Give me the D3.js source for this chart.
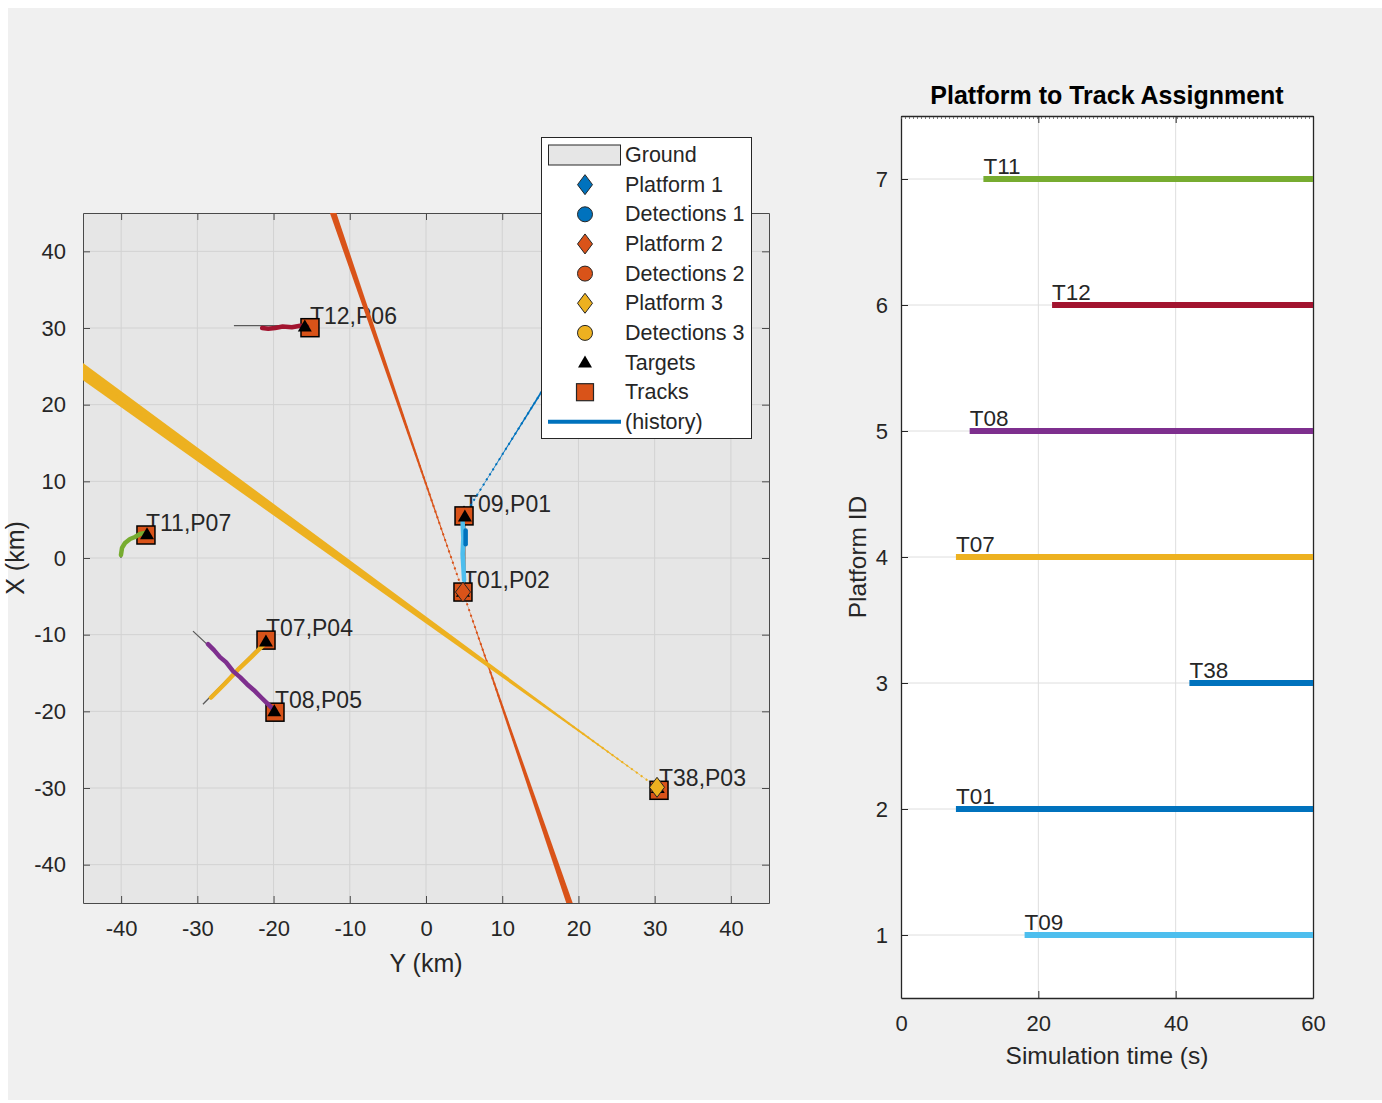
<!DOCTYPE html>
<html><head><meta charset="utf-8">
<script src="https://cdn.jsdelivr.net/npm/d3@7"></script>
<style>
body{margin:0;background:#fff;}
svg text{font-family:"Liberation Sans",Arial,Helvetica,sans-serif;}
</style></head><body>
<svg id="chart" width="1382" height="1103"></svg>
<script>
// ================= DATA =================
// Left panel (theater plot), coordinates are [Y km, X km]
const mapTicks = [-40,-30,-20,-10,0,10,20,30,40];
const trackNames = ["T12,P06","T09,P01","T01,P02","T11,P07","T07,P04","T08,P05","T38,P03"];
const trackY = [-15.22, 4.99, 4.85, -36.74, -20.99, -19.81, 30.57];
const trackX = [30.04, 5.49, -4.44, 3.00, -10.71, -20.11, -30.30];
const targetY = [-15.9, 5.1, 4.85, -36.6, -21.0, -19.9, 30.4];
const targetX = [30.2, 5.4, -4.4, 3.1, -10.9, -20.0, -30.0];
const platformNames = ["Platform 1","Platform 2","Platform 3"];
const platformY = [4.99, 4.85, 30.31];
const platformX = [5.49, -4.44, -29.91];
// detection beams (bearing-only detections) : platform index, far end, spread at far end (km)
const beamPlatform = [0, 1, 1, 2];
const beamEndY = [31.06, -12.87, 19.51, -47.0];
const beamEndX = [47.0, 47.0, -47.0, 25.74];
const beamSpread = [0.3, 0.42, 0.42, 0.95];
// ground-truth trajectories
const truthT12 = [[-25.2,30.3],[-15.2,30.3]];
const truthP01 = [[5.1,5.5],[5.1,-4.4]];
const truthT07 = [[-29.26,-19.07],[-20.99,-10.71]];
const truthT08 = [[-30.57,-9.54],[-28.6,-11.36],[-19.81,-20.11]];
const truthT11 = [[-40.02,0.0],[-40.02,0.78]];
// track histories
const histT12 = [[-21.5,30.0],[-20.7,29.9],[-19.8,30.0],[-18.8,30.2],[-17.6,30.1],[-16.5,30.3],[-15.6,30.2]];
const histT09 = [[4.8,4.8],[4.9,2.6],[4.8,0.5],[5.0,-2.9]];
const histT01 = [[5.2,3.6],[5.2,1.8]];
const histT07 = [[-28.2,-18.2],[-26.4,-16.4],[-24.7,-14.6],[-22.9,-12.9],[-21.1,-11.1]];
const histT08 = [[-28.6,-11.23],[-27.81,-12.02],[-27.03,-12.93],[-26.24,-13.58],[-25.32,-14.76],[-24.4,-15.54],
                 [-23.48,-16.46],[-22.57,-17.24],[-21.65,-18.16],[-20.73,-19.07],[-19.94,-19.85]];
const histT11 = [[-40.02,0.39],[-39.88,1.31],[-39.49,1.96],[-38.83,2.48],[-38.18,2.74],[-37.52,3.13],[-36.86,3.27]];
const legendLabels = ["Ground","Platform 1","Detections 1","Platform 2","Detections 2","Platform 3","Detections 3","Targets","Tracks","(history)"];

// Right panel
const assignPlatform = [7,6,5,4,3,2,1];
const assignTrack = ["T11","T12","T08","T07","T38","T01","T09"];
const assignStart = [12,22,10,8,42,8,18];
const assignEnd = [60,60,60,60,60,60,60];
const timeTicks = [0,20,40,60];
const idTicks = [1,2,3,4,5,6,7];

// ================= STYLE =================
const C = {blue:"#0072BD", orange:"#D95319", yellow:"#EDB120", purple:"#7E2F8E",
           green:"#77AC30", lblue:"#4DBEEE", dred:"#A2142F"};
const FONT = '"Liberation Sans", Arial, Helvetica, sans-serif';
const TXT = "#262626";
const platformColors = [C.blue, C.orange, C.yellow];
const assignColors = [C.green, C.dred, C.purple, C.yellow, C.blue, C.blue, C.lblue];

const svg = d3.select("#chart");
svg.append("rect").attr("x",8).attr("y",8).attr("width",1374).attr("height",1092).attr("fill","#f0f0f0");

// ================= LEFT PANEL =================
const L = {x0:83, x1:769, y0:213, y1:903};
const xs = d3.scaleLinear().domain([-45,45]).range([L.x0, L.x1]);
const ys = d3.scaleLinear().domain([-45,45]).range([L.y1, L.y0]);
const P = d => [xs(d[0]), ys(d[1])];

svg.append("rect").attr("x",L.x0).attr("y",L.y0).attr("width",L.x1-L.x0).attr("height",L.y1-L.y0).attr("fill","#e6e6e6");
svg.append("clipPath").attr("id","clipL").append("rect")
  .attr("x",L.x0).attr("y",L.y0).attr("width",L.x1-L.x0).attr("height",L.y1-L.y0);

// grid
const gGrid = svg.append("g");
mapTicks.forEach(t=>{
  gGrid.append("line").attr("x1",xs(t)).attr("x2",xs(t)).attr("y1",L.y0).attr("y2",L.y1).attr("stroke","#d2d2d2").attr("stroke-width",1);
  gGrid.append("line").attr("y1",ys(t)).attr("y2",ys(t)).attr("x1",L.x0).attr("x2",L.x1).attr("stroke","#d2d2d2").attr("stroke-width",1);
});

function styleAx(g, size){
  g.attr("font-family",FONT).attr("font-size",size);
  g.select(".domain").attr("stroke","#4a4a4a");
  g.selectAll(".tick line").attr("stroke","#4a4a4a");
  g.selectAll(".tick text").attr("fill",TXT);
}
const fmt = d=>String(d);
styleAx(svg.append("g").attr("transform",`translate(0,${L.y1})`)
  .call(d3.axisBottom(xs).tickValues(mapTicks).tickFormat(fmt).tickSizeInner(-7).tickSizeOuter(0).tickPadding(17)),22);
styleAx(svg.append("g").attr("transform",`translate(${L.x0},0)`)
  .call(d3.axisLeft(ys).tickValues(mapTicks).tickFormat(fmt).tickSizeInner(-7).tickSizeOuter(0).tickPadding(17)),22);
styleAx(svg.append("g").attr("transform",`translate(0,${L.y0})`)
  .call(d3.axisTop(xs).tickValues(mapTicks).tickFormat("").tickSizeInner(-7).tickSizeOuter(0)),22);
styleAx(svg.append("g").attr("transform",`translate(${L.x1},0)`)
  .call(d3.axisRight(ys).tickValues(mapTicks).tickFormat("").tickSizeInner(-7).tickSizeOuter(0)),22);

svg.append("text").attr("x",(L.x0+L.x1)/2).attr("y",963).attr("text-anchor","middle").attr("dominant-baseline","central")
  .attr("font-size",25).attr("fill",TXT).text("Y (km)");
svg.append("text").attr("transform","translate(15,558) rotate(-90)").attr("text-anchor","middle").attr("dominant-baseline","central")
  .attr("font-size",25).attr("fill",TXT).text("X (km)");

const plot = svg.append("g").attr("clip-path","url(#clipL)");
const line = d3.line().x(d=>xs(d[0])).y(d=>ys(d[1]));

// track labels (under detections)
plot.selectAll("text.tl").data(trackNames).join("text").attr("class","tl")
  .attr("x",(d,i)=>xs(trackY[i])).attr("y",(d,i)=>ys(trackX[i])-4)
  .attr("font-size",23).attr("fill",TXT).text(d=>d);

// detection beams
beamPlatform.forEach((p,i)=>{
  const o = P([platformY[p],platformX[p]]);
  const e = P([beamEndY[i],beamEndX[i]]);
  const dx=e[0]-o[0], dy=e[1]-o[1], len=Math.hypot(dx,dy);
  const nx=-dy/len, ny=dx/len;
  const w = beamSpread[i]*(xs(1)-xs(0));
  const col = platformColors[p];
  plot.append("path").attr("d",`M${o[0]},${o[1]}L${e[0]+nx*w},${e[1]+ny*w}L${e[0]-nx*w},${e[1]-ny*w}Z`).attr("fill",col);
  plot.append("line").attr("x1",o[0]).attr("y1",o[1]).attr("x2",e[0]).attr("y2",e[1])
    .attr("stroke",col).attr("stroke-width",2).attr("stroke-dasharray","2,4");
});

// truths
[truthT12,truthP01,truthT07,truthT08,truthT11].forEach(t=>{
  plot.append("path").attr("d",line(t)).attr("fill","none").attr("stroke","#5a5a5a").attr("stroke-width",1.3);
});

const dia = "M0,-10L7.5,0L0,10L-7.5,0Z";
// platform 1 sits beneath its track marker
plot.append("path").attr("transform",`translate(${xs(platformY[0])},${ys(platformX[0])})`).attr("d",dia)
  .attr("fill",platformColors[0]).attr("stroke","#262626").attr("stroke-width",1);

// tracks
const sq = 18;
plot.selectAll("rect.trk").data(trackNames).join("rect").attr("class","trk")
  .attr("x",(d,i)=>xs(trackY[i])-sq/2).attr("y",(d,i)=>ys(trackX[i])-sq/2)
  .attr("width",sq).attr("height",sq).attr("fill",C.orange).attr("stroke","#000").attr("stroke-width",1.5);

// histories
[[histT12,C.dred],[histT09,C.lblue],[histT01,C.blue],[histT07,C.yellow],[histT08,C.purple],[histT11,C.green]].forEach(([h,c])=>{
  plot.append("path").attr("d",line(h)).attr("fill","none").attr("stroke",c).attr("stroke-width",4.5)
    .attr("stroke-linejoin","round").attr("stroke-linecap","round");
});

// targets
const tri = "M0,-7L7,5L-7,5Z";
plot.selectAll("path.tgt").data(targetY).join("path").attr("class","tgt")
  .attr("transform",(d,i)=>`translate(${xs(d)},${ys(targetX[i])})`).attr("d",tri).attr("fill","#000");

// platforms 2 and 3 drawn on top
plot.selectAll("path.plt").data(platformNames.slice(1)).join("path").attr("class","plt")
  .attr("transform",(d,i)=>`translate(${xs(platformY[i+1])},${ys(platformX[i+1])})`).attr("d",dia)
  .attr("fill",(d,i)=>platformColors[i+1]).attr("stroke","#262626").attr("stroke-width",1);

// legend
const lg = svg.append("g");
lg.append("rect").attr("x",541.5).attr("y",137.5).attr("width",210).attr("height",301).attr("fill","#fff").attr("stroke","#262626").attr("stroke-width",1);
legendLabels.forEach((lab,i)=>{
  const yy = 155 + i*29.65;
  const cx = 585;
  if(i===0){
    lg.append("rect").attr("x",548.5).attr("y",yy-10).attr("width",72).attr("height",20).attr("fill","#e6e6e6").attr("stroke","#262626");
  } else if(i===1||i===3||i===5){
    lg.append("path").attr("d",dia).attr("transform",`translate(${cx},${yy})`).attr("fill",platformColors[(i-1)/2]).attr("stroke","#262626");
  } else if(i===2||i===4||i===6){
    lg.append("circle").attr("cx",cx).attr("cy",yy).attr("r",7.5).attr("fill",platformColors[(i-2)/2]).attr("stroke","#262626");
  } else if(i===7){
    lg.append("path").attr("d",tri).attr("transform",`translate(${cx},${yy})`).attr("fill","#000");
  } else if(i===8){
    lg.append("rect").attr("x",cx-8.5).attr("y",yy-8.5).attr("width",17).attr("height",17).attr("fill",C.orange).attr("stroke","#262626").attr("stroke-width",1.2);
  } else {
    lg.append("line").attr("x1",548).attr("x2",621).attr("y1",yy).attr("y2",yy).attr("stroke",C.blue).attr("stroke-width",4);
  }
  lg.append("text").attr("x",625).attr("y",yy).attr("dominant-baseline","central").attr("font-size",21.5).attr("fill",TXT).text(lab);
});

// ================= RIGHT PANEL =================
const R = {x0:901, x1:1313, y0:116, y1:998};
const xr = d3.scaleLinear().domain([0,60]).range([R.x0,R.x1]);
const yr = d3.scaleLinear().domain([0.5,7.5]).range([R.y1,R.y0]);
svg.append("rect").attr("x",R.x0).attr("y",R.y0).attr("width",R.x1-R.x0).attr("height",R.y1-R.y0).attr("fill","#fff");
timeTicks.slice(1,-1).forEach(t=>svg.append("line").attr("x1",xr(t)).attr("x2",xr(t)).attr("y1",R.y0).attr("y2",R.y1).attr("stroke","#dedede"));
idTicks.forEach(t=>svg.append("line").attr("y1",yr(t)).attr("y2",yr(t)).attr("x1",R.x0).attr("x2",R.x1).attr("stroke","#dedede"));

function styleAxR(g){
  g.attr("font-family",FONT).attr("font-size",22);
  g.select(".domain").attr("stroke","#262626").attr("stroke-width",1.3);
  g.selectAll(".tick line").attr("stroke","#262626");
  g.selectAll(".tick text").attr("fill",TXT);
}
styleAxR(svg.append("g").attr("transform",`translate(0,${R.y1})`)
  .call(d3.axisBottom(xr).tickValues(timeTicks).tickFormat(fmt).tickSizeInner(-7).tickSizeOuter(0).tickPadding(17)));
styleAxR(svg.append("g").attr("transform",`translate(${R.x0},0)`)
  .call(d3.axisLeft(yr).tickValues(idTicks).tickFormat(fmt).tickSizeInner(-7).tickSizeOuter(0).tickPadding(13)));
styleAxR(svg.append("g").attr("transform",`translate(${R.x1},0)`)
  .call(d3.axisRight(yr).tickValues(idTicks).tickFormat("").tickSizeInner(-7).tickSizeOuter(0)));
const topAx = svg.append("g").attr("transform",`translate(0,${R.y0})`)
  .call(d3.axisTop(xr).tickValues(timeTicks).tickFormat("").tickSizeInner(-7).tickSizeOuter(0));
styleAxR(topAx);
svg.append("line").attr("x1",R.x0).attr("x2",R.x1).attr("y1",R.y0+2).attr("y2",R.y0+2)
  .attr("stroke","#555").attr("stroke-width",1.5).attr("stroke-dasharray","1,3");

// assignment bars
svg.selectAll("line.asg").data(assignPlatform).join("line").attr("class","asg")
  .attr("x1",(d,i)=>xr(assignStart[i])).attr("x2",(d,i)=>xr(assignEnd[i]))
  .attr("y1",d=>yr(d)).attr("y2",d=>yr(d))
  .attr("stroke",(d,i)=>assignColors[i]).attr("stroke-width",6);
svg.selectAll("text.asg").data(assignPlatform).join("text").attr("class","asg")
  .attr("x",(d,i)=>xr(assignStart[i])).attr("y",d=>yr(d)-5)
  .attr("font-size",22.5).attr("fill",TXT).text((d,i)=>assignTrack[i]);

svg.append("text").attr("x",(R.x0+R.x1)/2).attr("y",95).attr("text-anchor","middle").attr("dominant-baseline","central")
  .attr("font-size",25).attr("font-weight","bold").attr("fill","#000").text("Platform to Track Assignment");
svg.append("text").attr("x",(R.x0+R.x1)/2).attr("y",1055).attr("text-anchor","middle").attr("dominant-baseline","central")
  .attr("font-size",24.5).attr("fill",TXT).text("Simulation time (s)");
svg.append("text").attr("transform","translate(857,557) rotate(-90)").attr("text-anchor","middle").attr("dominant-baseline","central")
  .attr("font-size",24.5).attr("fill",TXT).text("Platform ID");
</script>
</body></html>
